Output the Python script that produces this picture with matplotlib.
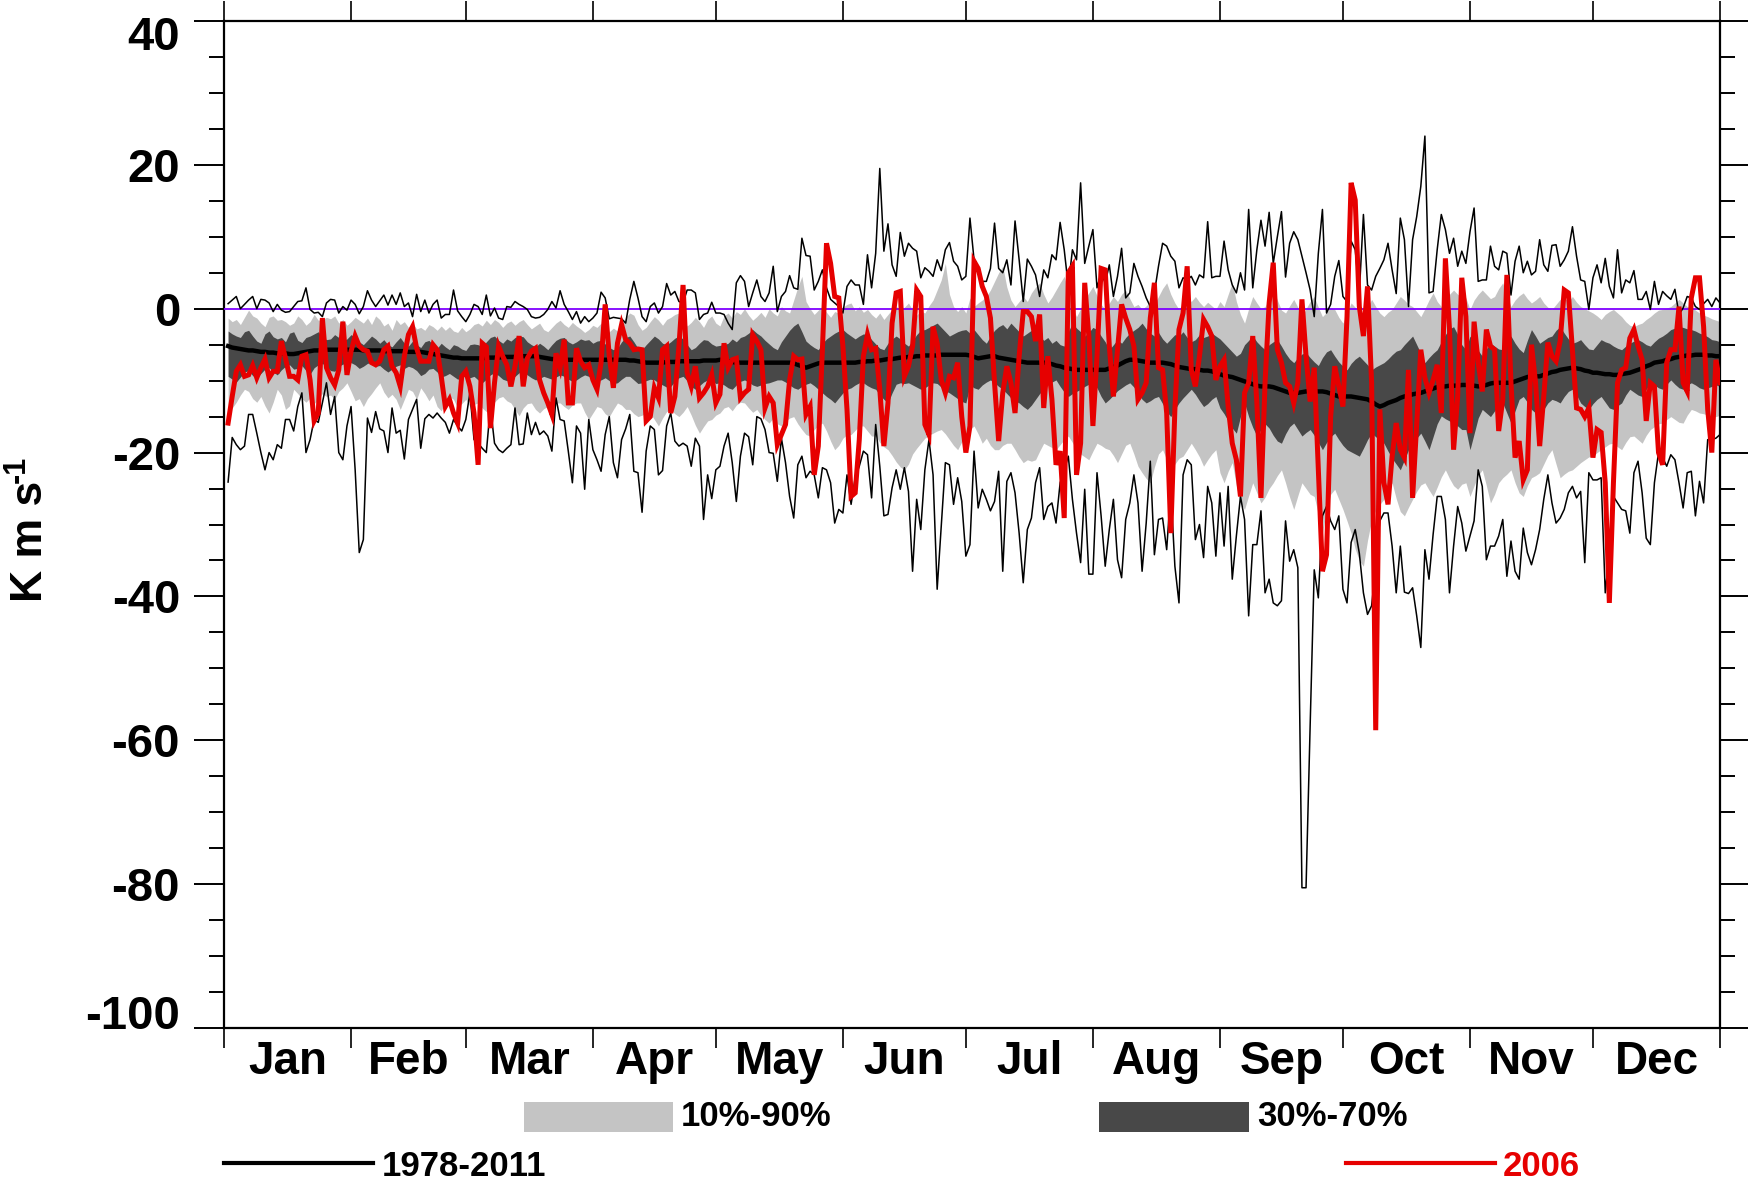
import numpy as np
import matplotlib
matplotlib.use("Agg")
import matplotlib.pyplot as plt
from matplotlib.patches import Rectangle
from matplotlib.lines import Line2D
from matplotlib.ticker import MultipleLocator
from matplotlib.transforms import ScaledTranslation

plt.rcParams['font.family'] = ['Liberation Sans', 'DejaVu Sans']
plt.rcParams['font.weight'] = 'bold'
plt.rcParams['axes.unicode_minus'] = False

months = ['Jan', 'Feb', 'Mar', 'Apr', 'May', 'Jun', 'Jul', 'Aug', 'Sep', 'Oct', 'Nov', 'Dec']
month_starts = [0, 31, 59, 90, 120, 151, 181, 212, 243, 273, 304, 334, 365]

# daily maximum 1978-2011
upper = [
    0.7, 1.2, 1.7, 0, 0.6, 1.2, 1.7, 0, 1.3, 1.2,
    0.8, -0.4, 0.6, -0.2, -0.5, -0.4, 0.3, 1.0, 1.1, 2.9,
    -0.1, -0.6, -0.5, -1.1, 0.8, 1.3, 1.2, -0.6, 0.3, -0.2,
    1.2, 0.6, -0.7, 0.3, 2.5, 1.2, 0.3, 1.1, 1.9, 0.5,
    1.9, 0.6, 2.2, 0.3, 0.8, -1.1, 2.0, -0.4, 1.2, -0.6,
    0.6, 1.2, -1.3, -0.8, -0.8, 2.6, -0.3, -1.1, -1.8,
    -0.8, 0.6, 0.3, -0.8, 1.9, -1.0, 0.1, -1.3, -1.5, 0.3,
    0.2, 1.0, 0.6, 0.3, -0.1, -1.1, -1.3, -1.2, -0.8, -0.1,
    1.0, 0.1, 2.5, 0.6, -0.4, -1.5, -0.4, -2.0, -1.1, -1.8,
    -1.3, -0.6, 2.3, 1.5, -1.4, -1.2, -1.3, -1.4, -2.0, 1.3,
    3.8, 1.5, -1.1, -1.8, 0.3, 0.8, -0.6, 0.3, 3.5, 1.9,
    2.4, 1.0, 0.8, 2.6, 2.6, 2.2, -1.5, -0.8, -0.6, 0.9,
    -0.6, -0.6, -0.8,
    -2.0, -2.9, 3.6, 4.6, 3.8, 0.3, 2.2, 4.0, 1.7, 1.0,
    2.2, 5.9, -0.4, 1.7, 2.4, 4.6, 2.9, 2.7, 9.8, 7.4,
    7.3, 2.6, 3.8, 5.4, 2.9, 1.3, 0.8, 0.3, -0.6, 3.1,
    4.0, 3.3, 3.3, 0.6, 7.5, 2.9, 7.7, 19.5, 8.0, 11.8,
    6.1, 4.5, 10.6, 7.3, 9.1, 8.4, 8.0, 4.3, 5.7, 5.2,
    4.5, 6.8, 5.3, 8.2, 9.2, 6.6, 5.9, 4.0, 4.5, 12.6,
    6.8, 5.4, 3.8, 3.8, 5.6, 11.9, 5.6, 5.0, 6.8, 3.3,
    12.2, 6.8, 1.0, 6.9, 5.9, 4.7, 1.7, 5.4, 4.3, 7.5,
    6.8, 12.0, 8.2, 3.1, 8.2, 6.8, 17.5, 6.3, 8.7, 11.0,
    2.9, 5.0, 3.6, 6.1, 1.7, 4.5, 8.4, 1.5, 2.2, 6.3,
    4.5, 3.1, 1.5, 0.3, 2.2, 5.9, 9.1, 8.7, 7.3, 6.6,
    2.9, 4.3, 4.0, 4.5, 3.3, 4.7, 4.3, 12.1, 4.3, 4.5,
    4.5, 9.4, 5.4, 3.3, 2.2, 5.0, 2.6, 13.8, 2.9, 8.2,
    12.3, 8.7, 13.4, 6.3, 10.0, 13.5, 4.4, 9.1, 10.7, 9.6,
    7.3, 5.0, 2.6, -1.1, 7.7, 13.8, -0.6, 0.6, 4.5, 6.7,
    1.7, 1.0, 9.4, 8.2, 2.2, 13.1, 3.3, 2.6, 4.5, 5.6,
    6.8, 9.1, 5.4, 2.1, 12.6, 9.6, 0.3, 9.6, 12.8, 17.0,
    24.0, 2.2, 2.4, 8.2, 13.1, 11.0, 7.7, 9.8, 5.9, 8.0,
    6.3,
    10.7, 14.0, 3.8, 4.0, 4.0, 8.7, 5.9, 5.4, 8.0, 7.7,
    1.9, 6.6, 8.7, 5.0, 6.6, 4.7, 5.2, 9.6, 6.1, 5.2,
    8.8, 8.9, 5.9, 6.8, 8.0, 11.4, 7.3, 4.0, 3.8, -0.1,
    4.3, 6.1, 3.6, 7.0, 3.1, 1.5, 8.2, 2.2, 4.0, 3.6,
    5.3, 1.3, 1.3, 2.4, -0.1, 3.8, 0.6, 2.4, 1.8, 1.3,
    2.7, -0.8, 0.1, 1.7, 1.5, 0.3, -0.1, 0.7, 1.3, 0.3,
    1.5, 0.8,
]

# daily minimum 1978-2011
lower = [
    -24.1, -17.9, -18.9, -19.6, -19.1, -14.7, -14.7, -17.3, -20.0, -22.4,
    -20.0, -21.0, -18.9, -19.4, -15.4, -15.4, -17.0, -13.6, -11.7, -20.0,
    -18.2, -15.4, -15.8, -13.1, -10.3, -14.7, -12.2, -20.0, -21.0, -16.3,
    -13.6, -22.4, -33.9, -32.1, -15.2, -17.2, -14.3, -16.7, -17.0, -20.0,
    -13.8, -17.3, -16.9, -20.9, -15.4, -14.0, -12.6, -19.4, -15.3, -14.7,
    -15.2, -14.5, -15.2, -15.8, -17.3, -15.4, -16.3, -17.0, -15.4, -11.7,
    -18.2, -18.7, -19.4, -20.0, -13.6, -18.7, -19.6, -20.0, -19.4, -18.9,
    -13.8, -18.9, -18.8, -14.5, -17.5, -15.8, -17.5, -17.0, -17.7, -19.8,
    -12.4, -15.4, -15.6, -19.8, -24.2, -16.3, -17.3, -25.1, -15.4, -19.6,
    -21.0, -22.6, -17.5, -15.0, -21.4, -23.5, -18.2, -16.7, -14.7, -22.6,
    -22.8, -28.3, -19.8, -16.3, -16.8, -23.1, -22.5, -16.3, -14.5, -18.4,
    -19.1, -18.7, -19.1, -21.9, -18.0, -19.1, -29.3, -23.1, -26.4, -22.4,
    -21.9, -19.1,
    -17.3, -21.4, -26.8, -20.5, -17.3, -17.8, -21.7, -15.0, -15.3, -16.8,
    -20.0, -20.1, -24.0, -18.0, -21.4, -26.1, -29.1, -21.7, -20.5, -23.5,
    -22.6, -23.1, -26.3, -22.1, -22.4, -24.2, -29.8, -27.9, -28.4, -23.1,
    -27.2, -23.5, -21.9, -19.8, -20.3, -26.3, -16.1, -21.9, -28.8, -28.6,
    -24.9, -22.4, -25.1, -22.1, -25.4, -36.5, -26.5, -30.7, -22.4, -18.2,
    -23.1, -39.0, -30.2, -21.4, -21.7, -27.2, -23.5, -26.8, -34.4, -32.8,
    -19.8, -27.7, -25.1, -26.5, -28.1, -26.8, -22.6, -36.5, -24.0, -22.8,
    -25.6, -31.2, -38.1, -30.7, -29.1, -24.2, -22.1, -29.3, -27.5, -27.0,
    -29.8, -24.2, -22.4, -20.5, -26.5, -31.2, -35.3, -25.1, -36.9, -36.9,
    -22.8, -28.8, -35.8, -30.7, -26.5, -34.9, -37.4, -29.3, -27.0, -23.1,
    -27.0, -36.5, -29.8, -21.2, -34.2, -29.3, -29.1, -33.5, -25.1, -35.8,
    -40.9, -23.1, -21.0, -21.7, -32.1, -30.0, -34.6, -24.7, -27.0, -34.4,
    -25.6, -33.0, -24.7, -37.6, -31.6, -26.1, -29.3, -42.7, -32.8, -32.8,
    -28.1, -39.5, -37.6, -40.9, -41.3, -40.6, -29.5, -35.1, -33.5, -36.0,
    -80.5, -80.5, -58.0, -36.3, -40.2, -28.8, -27.5, -29.5, -30.7, -28.8,
    -39.0, -40.9, -32.5, -30.7, -34.0, -39.5, -42.5, -41.3, -35.8, -29.5,
    -28.4, -28.4, -33.0, -39.5, -33.0, -39.4, -39.6, -38.8, -42.7, -47.1,
    -33.5, -37.6, -31.4, -26.1, -26.1, -29.3, -39.5, -33.0, -27.5, -29.8,
    -33.7, -31.6, -29.5, -22.4, -24.7, -34.9, -33.0, -33.0, -31.6,
    -29.3, -37.2, -32.3, -36.5, -37.6, -30.5, -33.9, -35.6, -33.5, -30.7,
    -26.5, -23.1, -27.0, -29.8, -29.1, -27.9, -25.6, -24.7, -26.3, -25.4,
    -35.3, -22.8, -23.8, -23.8, -23.5, -39.5, -33.9, -26.1, -27.0, -27.9,
    -28.1, -31.2, -22.8, -21.2, -25.6, -31.9, -32.8, -24.2, -20.0, -20.7,
    -21.9, -20.3, -21.0, -24.2, -27.7, -22.8, -22.6, -28.8, -24.0, -27.0,
    -18.2, -18.2, -18.0, -17.5,
]

# daily median 1978-2011
median = [
    -5.2, -5.4, -5.5, -5.6, -5.7, -5.8, -5.8, -5.9, -6.0, -6.0,
    -6.1, -6.1, -6.2, -6.2, -6.2, -6.3, -6.3, -6.2, -6.1, -6.0,
    -5.9, -5.8, -5.8, -5.7, -5.7, -5.7, -5.7, -5.7, -5.7, -5.7, -5.7,
    -5.7, -5.7, -5.8, -5.8, -5.8, -5.8, -5.8, -5.9, -5.9, -5.9,
    -5.9, -5.9, -5.9, -6.0, -6.0, -6.0, -6.0, -6.1, -6.2, -6.3,
    -6.4, -6.5, -6.6, -6.7, -6.8, -6.8, -6.9, -6.9,
    -6.9, -6.9, -6.9, -6.9, -6.8, -6.8, -6.8, -6.8, -6.7, -6.7,
    -6.7, -6.7, -6.6, -6.6, -6.6, -6.6, -6.6, -6.7, -6.8, -6.9,
    -7.0, -7.0, -7.1, -7.1, -7.1, -7.1, -7.1, -7.1, -7.1, -7.1, -7.1,
    -7.1, -7.1, -7.1, -7.1, -7.1, -7.1, -7.1, -7.1, -7.2, -7.2,
    -7.3, -7.4, -7.5, -7.5, -7.5, -7.5, -7.5, -7.4, -7.4, -7.4,
    -7.3, -7.3, -7.3, -7.3, -7.3, -7.3, -7.2, -7.2, -7.2, -7.2,
    -7.1, -7.2, -7.3, -7.4, -7.5, -7.5, -7.5, -7.5, -7.5, -7.5,
    -7.5, -7.5, -7.5, -7.5, -7.5, -7.5, -7.5, -7.5, -7.6, -7.8,
    -8.0, -8.2, -8.0, -7.8, -7.6, -7.5, -7.5, -7.5, -7.5, -7.5, -7.5,
    -7.5, -7.5, -7.5, -7.4, -7.4, -7.3, -7.3, -7.2, -7.2, -7.1,
    -7.0, -7.0, -6.9, -6.8, -6.8, -6.7, -6.7, -6.6, -6.6, -6.5,
    -6.5, -6.5, -6.5, -6.4, -6.4, -6.4, -6.4, -6.4, -6.4, -6.4,
    -6.5, -6.7, -6.9, -6.8, -6.7, -6.6, -6.6, -6.8, -6.9, -7.0,
    -7.1, -7.2, -7.3, -7.4, -7.5, -7.5, -7.5, -7.5, -7.5, -7.6,
    -7.7, -7.9, -8.0, -8.2, -8.3, -8.4, -8.5, -8.5, -8.5, -8.5, -8.5,
    -8.5, -8.5, -8.5, -8.3, -8.1, -7.9, -7.6, -7.3, -7.1, -7.1,
    -7.2, -7.3, -7.4, -7.5, -7.5, -7.5, -7.5, -7.6, -7.7, -7.9,
    -8.1, -8.2, -8.3, -8.4, -8.4, -8.5, -8.6, -8.6, -8.7, -8.9, -9.1,
    -9.3, -9.4, -9.5, -9.7, -9.9, -10.1, -10.3, -10.5, -10.7, -10.8,
    -10.8, -10.8, -10.9, -11.1, -11.3, -11.5, -11.7, -11.7, -11.7, -11.6,
    -11.5, -11.5, -11.5, -11.5, -11.5, -11.6, -11.8, -12.0, -12.2, -12.2,
    -12.2, -12.2, -12.3, -12.4, -12.5, -12.6, -12.9, -13.3, -13.6, -13.4,
    -13.1, -12.9, -12.7, -12.4, -12.2, -12.1, -11.9, -11.8, -11.7, -11.5,
    -11.3, -11.1, -10.9, -10.8, -10.8, -10.7, -10.7, -10.7, -10.6, -10.6, -10.6,
    -10.7, -10.8, -10.7, -10.6, -10.4, -10.3, -10.3, -10.3, -10.3, -10.3,
    -10.1, -9.9, -9.7, -9.5, -9.4, -9.4, -9.4, -9.2, -9.0, -8.8,
    -8.7, -8.5, -8.4, -8.3, -8.2, -8.3, -8.4, -8.6, -8.7, -8.9,
    -8.9, -9.0, -9.1, -9.1, -9.2, -9.2, -9.1, -9.0, -8.9, -8.7,
    -8.5, -8.3, -8.0, -7.8, -7.5, -7.4, -7.3, -7.1, -7.0, -6.8,
    -6.7, -6.6, -6.5, -6.5, -6.4, -6.4, -6.4, -6.5, -6.5, -6.6, -6.6,
]

# percentiles 1978-2011
p90 = [
    -1.3, -1.8, -1.5, -2.2, -1.2, -0.2, -1.0, -1.3, -2.0, -2.5,
    -1.2, -1.0, -1.6, -1.5, -1.8, -2.3, -2.0, -1.0, -1.5, -2.3,
    -1.8, -0.8, -1.6, -1.5, -1.2, -1.4, -1.0, -2.0, -1.5, -2.3,
    -1.8, -1.2, -1.6, -2.0, -1.3, -2.2, -1.0, -1.5, -2.4, -2.0,
    -3.0, -1.5, -2.2, -1.8, -2.6, -2.0, -2.8, -2.6, -3.0, -2.2,
    -2.5, -3.0, -2.4, -3.0, -2.5, -3.1, -3.3, -2.6, -3.2, -2.8, -2.2,
    -2.0, -2.4, -1.6, -2.2, -1.5, -1.9, -2.6, -2.0, -1.7, -2.3,
    -1.8, -1.5, -2.2, -2.8, -2.4, -2.0, -2.9, -3.2, -2.6, -2.0,
    -1.6, -2.2, -2.6, -1.9, -2.4, -2.8, -3.3, -2.9, -2.3, -2.6,
    -2.0, -2.5, -3.2, -2.7, -3.1, -2.2, -1.2, -0.6, -0.9, -2.2,
    -3.0, -2.6, -1.8, -1.1, -1.6, -2.3, -1.5, -1.2, -0.8, -0.6,
    -1.4, -2.4, -1.9, -1.2, -1.8, -2.6, -1.5, -1.0, -2.0, -2.4,
    -1.0, -0.6, -1.3, -0.4, -0.8, 0.0, -0.9, -1.6, -1.1, -0.5,
    -1.2, 0.0, -0.6, -1.0, 0.3, -0.3, -0.6, 1.2, 3.0, 4.5,
    1.0, 0.0, -0.8, -0.2, 0.3, -0.5, -1.2, -0.4, -0.6, 0.2,
    0.6, 0.8, -0.3, 0.3, -0.5, -0.1, -0.8, -1.3, -0.6, -1.5,
    -0.8, -0.1, 0.4, -0.4, 0.2, 0.8, -0.2, -0.9, -0.3, -0.6,
    0.4, 1.2, 2.6, 4.0, 6.3, 2.0, 0.3, -0.4, 0.3, -0.6,
    1.5, 0.3, 0.8, 1.2, 1.7, 2.6, 3.8, 5.0, 5.9, 3.0,
    1.2, 0.3, 1.0, 1.7, 1.0, 2.2, 3.0, 3.6, 2.0, 0.8,
    1.6, 2.6, 3.6, 4.5, 2.4, 0.2, -1.1, 0.0, 1.3, 2.2,
    3.1, 1.8, 0.6, -0.1, 0.8, 1.7, 1.0, 2.0, 2.6, 1.4,
    0.3, 0.6, -0.1, 0.4, 1.0, 0.6, 1.7, 2.8, 3.6, 2.0,
    0.8, -0.1, 0.8, 1.7, 1.0, 1.7, 0.9, 0.3, 0.9, 0.4,
    -0.1,
    1.0, 0.3, 2.0, 3.6, 1.0, -0.8, -2.0, 0.0, 1.7, 0.8,
    0.0, 0.3, 1.5, 2.6, 1.2, -0.2, -0.6, 0.4, 1.3, 0.2,
    -1.1, 0.0, 1.0, 1.7, 0.2, -1.1, -0.5, 0.2, -0.1, -1.2,
    -2.0, -0.6, 0.8, 0.2, -0.5, -1.1, 0.2, 1.3, 0.3, -0.6,
    -1.1, -0.5, -0.1, 0.8, 1.7, 1.2, 0.6, 0.3, -0.4, -1.1,
    0.0, 1.2, 2.2, 1.0, 0.3, 1.4, 2.0, 2.6, 2.0, 1.7,
    1.5,
    -0.1, 1.2, 2.0, 2.6, 2.0, 1.4, 1.7, 2.8, 3.6, 1.8,
    0.3, 1.2, 1.8, 2.2, 1.4, 0.8, 1.2, 1.7, 0.8, 0.2,
    -0.1, 0.6, 1.3, 1.5, 1.0, 1.7, 0.9, 0.3, 0.0, -0.3,
    -0.6, -1.0, -1.5, -0.8, -0.4, -0.1, -0.6, -1.1, -1.8, -2.3,
    -2.5, -2.2, -2.0, -1.5, -1.1, -0.6, -0.2, -0.1, 0.1, 0.3,
    0.8, 1.3, 0.8, 0.3, 0.3, -0.2, -0.6, -0.9, -1.1, -1.4,
    -1.6, -1.8,
]

p70 = [
    -3.1, -3.5, -3.8, -4.0, -3.2, -3.0, -3.8, -4.5, -4.8, -3.5,
    -3.1, -3.9, -4.2, -4.0, -4.6, -3.4, -3.2, -4.4, -4.7, -4.0,
    -3.8, -3.5, -3.2, -4.0, -4.3, -4.2, -3.6, -4.0, -4.5, -4.2,
    -3.6, -4.0, -4.6, -5.0, -4.4, -3.8, -4.2, -4.8, -4.3, -5.0,
    -5.3, -4.6, -4.0, -4.8, -5.2, -4.5, -5.0, -5.4, -4.6, -4.4,
    -5.0, -5.5, -4.8, -5.3, -5.7, -5.0, -5.2, -5.6, -5.8, -5.0, -4.9,
    -5.0, -5.3, -4.6, -4.0, -3.8, -4.4, -4.8, -4.2, -4.5, -4.0,
    -3.8, -3.9, -4.6, -5.0, -5.3, -4.8, -5.2, -5.7, -5.0, -4.4,
    -4.1, -4.0, -4.6, -4.9, -4.6, -4.2, -4.4, -4.3, -4.8, -4.5,
    -4.4, -4.9, -5.4, -5.7, -5.5, -4.6, -4.0, -3.8, -4.6, -5.5,
    -5.7, -5.0, -4.4, -3.8, -4.2, -4.8, -5.0, -4.6, -4.1, -3.8,
    -4.2, -5.0, -5.7, -5.4, -4.8, -4.3, -4.4, -4.9, -5.2, -5.1,
    -5.0, -4.8, -4.2, -4.6, -4.0, -3.8, -3.4, -2.9, -3.4, -3.8,
    -4.4, -4.9, -5.4, -5.7, -4.6, -3.8, -3.0, -2.4, -2.0, -3.2,
    -4.5, -5.0, -5.4, -5.7, -4.8, -4.2, -3.8, -3.4, -3.1, -2.9,
    -3.4, -3.8, -4.2, -3.8, -3.5, -3.6, -4.3, -4.9, -5.5, -5.7,
    -4.8, -4.2, -3.8, -4.2, -4.8, -5.2, -4.4, -3.6, -3.0, -2.9,
    -2.6, -2.3, -2.0, -2.6, -3.2, -3.8, -3.5, -3.2, -3.0, -2.9,
    -3.4, -2.9, -3.6, -4.3, -4.8, -3.8, -3.0, -2.5, -2.2, -2.8,
    -2.0, -2.6, -3.2, -3.8, -3.4, -3.0, -3.6, -3.8, -4.4, -4.0,
    -4.8, -4.4, -5.0, -5.2, -3.2, -2.0, -2.7, -3.2, -3.8, -3.3,
    -2.6, -2.9, -3.8, -4.6, -5.7, -5.0, -4.3, -4.8, -4.0, -3.4,
    -3.0, -2.6, -2.0, -2.8, -3.4, -3.8, -3.3, -4.2, -4.8, -4.2,
    -3.6, -3.8, -3.2, -4.0, -4.6, -4.3, -3.6, -4.0, -3.8, -3.4,
    -3.8,
    -4.2, -4.8, -5.4, -6.0, -6.6, -6.2, -5.0, -4.4, -3.8, -4.6,
    -5.2, -5.7, -5.0, -4.6, -4.3, -5.2, -6.2, -7.0, -7.5, -6.8,
    -6.3, -6.1, -6.8, -7.4, -7.9, -6.8, -6.0, -5.7, -6.6, -7.4,
    -8.0, -8.5, -7.6, -7.0, -6.6, -7.2, -7.8, -8.5, -8.1, -7.8,
    -7.5, -7.0, -6.4, -5.9, -5.7, -5.0, -4.4, -3.8, -5.0, -6.2,
    -7.5, -6.8, -6.2, -5.7, -4.6, -3.6, -2.8, -2.5, -3.6, -5.0,
    -5.7,
    -3.8, -4.8, -5.8, -6.6, -5.6, -4.8, -5.2, -5.6, -5.7, -4.6,
    -3.8, -4.8, -5.6, -6.1, -4.4, -2.9, -3.8, -4.8, -4.4, -4.0,
    -3.8, -3.0, -2.5, -3.4, -4.2, -4.8, -4.6, -4.3, -5.0, -5.6,
    -5.7, -5.0, -4.3, -4.6, -4.8, -5.2, -5.5, -5.7, -5.2, -4.8,
    -4.5, -4.3, -4.6, -5.0, -5.2, -4.6, -4.1, -3.8, -3.4, -2.9,
    -2.7, -2.5, -2.6, -2.8, -2.9, -3.1, -3.4, -3.6, -3.9, -4.3,
    -4.4, -4.6,
]

p30 = [
    -9.4, -9.8, -10.2, -9.5, -8.8, -8.6, -9.3, -9.6, -9.0, -8.4,
    -8.2, -8.8, -9.2, -8.5, -8.0, -7.8, -8.4, -8.3, -7.9, -8.6,
    -9.1, -8.2, -7.8, -7.6, -8.1, -8.6, -8.7, -8.0, -7.7, -7.6,
    -7.5, -7.8, -8.3, -8.0, -7.6, -7.5, -8.0, -7.9, -8.4, -8.8,
    -8.4, -8.0, -7.8, -8.3, -8.0, -8.2, -8.6, -9.3, -9.0, -8.4,
    -8.3, -8.8, -9.5, -9.3, -9.0, -9.4, -9.8, -9.6, -9.3, -9.6, -9.4,
    -9.9, -10.3, -9.8, -9.2, -8.9, -9.3, -9.8, -10.0, -9.9, -9.4,
    -8.9, -8.7, -9.2, -9.6, -9.9, -9.7, -9.4, -9.6, -9.8, -9.5,
    -9.2, -9.4, -9.8, -10.1, -9.9, -9.5, -9.2, -9.4, -9.8, -10.0,
    -9.9, -9.6, -10.0, -10.4, -10.3, -9.8, -9.4, -9.4, -9.9, -10.4,
    -10.3, -10.0, -9.8, -9.9, -10.3, -10.6, -10.9, -10.8, -10.1, -9.6,
    -9.4, -10.0, -10.8, -11.2, -10.7, -10.2, -9.9, -10.0, -10.4, -10.3,
    -10.6, -11.0, -11.2, -10.6, -10.1, -9.9, -10.2, -10.6, -10.8, -10.6,
    -10.4, -10.3, -10.1, -9.9, -9.9, -10.2, -10.6, -11.0, -11.2, -10.8,
    -10.5, -10.3, -10.7, -11.2, -11.7, -12.2, -12.6, -13.1, -12.4, -11.7,
    -11.2, -11.0, -10.6, -10.3, -10.3, -10.7, -11.0, -11.2, -12.0, -12.6,
    -13.1, -11.7, -10.5, -10.3, -10.4, -10.3, -10.6, -10.9, -11.2, -11.0,
    -10.6, -10.3, -10.4, -10.9, -11.4, -11.7, -12.1, -12.5, -12.9, -13.1,
    -10.6, -11.0, -11.2, -10.6, -10.2, -9.9, -10.3, -10.8, -11.2, -11.8,
    -12.4, -12.8, -13.1, -13.6, -14.0, -13.4, -12.6, -11.8, -11.2, -10.6,
    -10.2, -9.9, -10.8, -11.6, -12.2, -11.8, -11.5, -11.2, -10.8, -10.5,
    -10.3, -11.0, -12.2, -13.1, -12.6, -12.0, -11.4, -11.0, -10.6, -10.3,
    -10.9, -11.8, -12.6, -13.1, -12.8, -12.4, -12.2, -13.2, -14.3, -15.0,
    -14.0, -13.1, -12.4, -11.8, -11.2, -11.9, -12.8, -13.6, -13.2, -12.6,
    -12.2,
    -13.8, -14.6, -15.6, -16.6, -17.3, -15.0, -13.1, -15.0, -16.5, -17.7,
    -16.8, -16.0, -16.6, -17.6, -18.4, -18.7, -17.4, -16.4, -15.9, -16.8,
    -17.7, -17.2, -16.8, -17.6, -18.6, -19.6, -18.6, -17.8, -17.3, -18.2,
    -19.0, -19.6, -19.9, -20.2, -20.5, -19.4, -18.2, -17.3, -17.8, -18.3,
    -18.7, -19.8, -20.8, -21.6, -22.4, -21.0, -19.6, -18.8, -18.0, -17.3,
    -18.4, -19.6, -17.8, -16.0, -14.9, -15.3, -15.6, -15.9, -16.3, -16.8,
    -16.8,
    -19.6, -17.4, -15.2, -14.0, -14.5, -15.0, -14.2, -13.4, -13.1, -14.5,
    -15.9, -14.2, -12.6, -12.2, -13.0, -14.0, -14.5, -15.0, -14.0, -13.1,
    -12.6, -12.8, -13.1, -12.2, -11.5, -11.2, -12.0, -13.1, -13.6, -14.0,
    -13.2, -12.6, -12.2, -13.0, -13.8, -14.0, -13.5, -13.1, -12.0, -11.2,
    -11.6, -12.0, -12.2, -11.2, -10.3, -10.6, -11.0, -11.2, -10.5, -9.9,
    -10.5, -11.0, -11.2, -10.6, -10.3, -10.6, -11.0, -11.2, -11.0, -10.8,
    -10.6, -10.8,
]

p10 = [
    -14.5, -13.8, -13.0, -12.0, -11.2, -11.5, -12.5, -13.0, -12.2, -13.5,
    -14.5, -13.0, -11.2, -12.0, -14.0, -13.5, -11.2, -11.8, -12.5, -13.0,
    -12.4, -13.2, -12.6, -11.8, -12.2, -12.0, -12.6, -11.5, -11.0, -10.3,
    -11.5, -12.8, -12.5, -13.6, -12.5, -11.8, -11.0, -10.3, -11.6, -12.4,
    -11.9, -12.6, -14.0, -12.6, -11.2, -11.5, -12.6, -11.0, -11.8, -12.8,
    -12.0, -13.6, -14.2, -13.0, -12.2, -12.6, -13.8, -13.2, -12.6, -13.6, -13.3,
    -13.1, -13.8, -14.3, -14.5, -13.0, -12.4, -12.2, -12.8, -13.1, -14.0,
    -14.9, -13.8, -13.2, -13.1, -14.0, -14.5, -13.9, -13.6, -13.4, -13.1,
    -13.1, -13.6, -14.0, -13.4, -13.1, -13.1, -14.4, -15.4, -14.5, -13.6,
    -13.8, -14.6, -15.0, -14.0, -13.1, -13.4, -14.0, -14.0, -14.6, -15.0,
    -14.8, -14.5, -14.5, -15.4, -16.3, -15.2, -14.3, -14.0, -14.6, -15.0,
    -14.4, -13.6, -14.8, -16.2, -17.3, -16.4, -15.6, -15.4, -14.8, -14.5,
    -13.8, -13.6, -14.2, -13.4, -13.0, -13.1, -13.8, -14.4, -14.0, -14.8,
    -15.4, -15.9, -15.2, -16.0, -16.3, -15.6, -15.2, -15.0, -16.0, -16.8,
    -17.5, -17.7, -16.8, -16.2, -15.9, -17.0, -18.4, -19.6, -19.0, -18.0,
    -17.5, -17.5, -16.9, -16.3, -16.3, -17.0, -17.7, -17.7, -18.6, -19.2,
    -19.6, -20.4, -21.3, -22.0, -22.4, -21.6, -20.2, -19.4, -18.7, -18.0,
    -17.6, -17.3, -17.0, -16.8, -17.4, -18.2, -19.0, -19.6, -18.5, -17.6,
    -16.8, -16.3, -17.4, -18.7, -18.0, -19.0, -19.6, -19.6, -19.0, -18.7,
    -18.7, -19.6, -20.6, -21.4, -21.0, -21.2, -21.0, -19.8, -18.7, -19.0,
    -19.3, -19.6, -18.9, -18.2, -17.7, -18.6, -19.6, -20.2, -20.6, -21.0,
    -19.8, -18.7, -19.0, -19.4, -19.6, -20.4, -21.4, -20.2, -19.0, -18.7,
    -20.2, -21.9, -22.8, -23.6, -24.2, -22.0, -20.2, -19.6, -21.0, -22.4,
    -21.6, -20.8, -20.5, -19.6, -18.7, -19.6, -20.6, -21.9, -21.0, -20.2,
    -19.6,
    -22.8, -24.2, -22.6, -21.4, -24.6, -27.0, -27.9, -26.0, -24.2, -25.6,
    -27.0, -26.2, -25.0, -24.2, -23.2, -22.4, -24.2, -26.2, -27.9, -26.0,
    -24.2, -25.0, -25.8, -26.1, -28.6, -31.2, -28.0, -25.8, -25.1, -26.5,
    -27.9, -29.5, -31.2, -33.4, -35.0, -35.8, -32.2, -29.4, -28.0, -27.2,
    -26.5, -25.3, -24.2, -26.4, -28.2, -28.8, -27.6, -26.5, -25.4, -24.5,
    -24.2, -25.2, -26.1, -24.8, -23.4, -22.4, -23.6, -24.6, -25.1, -24.4,
    -24.2,
    -26.1, -24.6, -23.2, -22.4, -24.6, -27.0, -25.8, -24.2, -23.5, -23.0,
    -22.4, -24.2, -25.6, -26.1, -24.6, -23.5, -23.2, -22.8, -21.6, -20.4,
    -19.6, -21.6, -23.5, -23.0, -22.6, -22.4, -21.9, -21.4, -21.0, -20.6,
    -20.5, -20.0, -19.6, -19.2, -18.8, -18.7, -19.2, -19.6, -18.6, -17.8,
    -17.7, -18.2, -18.7, -17.6, -16.8, -16.4, -16.0, -15.9, -15.4, -15.0,
    -15.4, -15.8, -15.9, -14.8, -14.0, -14.2, -14.5, -14.6, -14.8, -15.0,
    -15.0, -14.8,
]

# year 2006
y2006 = [
    -15.9, -12.2, -8.7, -7.8, -9.4, -9.2, -7.9, -9.6, -8.2, -7.0,
    -9.6, -8.7, -8.7, -4.5, -6.9, -9.4, -9.4, -9.9, -6.6, -6.4,
    -9.9, -15.6, -14.5, -1.3, -8.2, -9.6, -10.6, -8.5, -1.8, -9.2,
    -5.9, -3.8, -5.2, -5.7, -5.9, -7.5, -7.8, -7.3, -5.7, -5.2,
    -8.0, -8.9, -10.8, -6.6, -3.6, -2.5, -5.5, -7.3, -7.3, -7.3,
    -5.0, -5.7, -9.4, -13.6, -12.6, -14.5, -15.9, -9.4, -8.7, -10.8,
    -14.5, -21.7, -4.8, -5.3, -16.6, -10.3, -5.2, -6.6, -7.8, -10.8,
    -8.0, -3.8, -10.8, -6.9, -5.9, -5.5, -9.9, -11.7, -13.1, -14.7,
    -6.2, -8.2, -4.3, -13.1, -13.1, -5.5, -7.3, -8.2, -7.8, -9.9,
    -11.2, -7.5, 0.6, -6.6, -11.0, -4.8, -2.2, -4.3, -4.8, -5.7,
    -5.6, -5.7, -15.6, -15.0, -11.0, -12.4, -5.7, -5.2, -14.5, -12.2,
    -5.2, 3.3, -8.9, -10.8, -8.0, -12.4, -11.7, -10.8, -9.2, -13.1,
    -11.9, -4.8,
    -8.2, -7.1, -6.9, -12.4, -11.7, -11.2, -3.6, -4.5, -5.7, -13.8,
    -12.2, -13.1, -18.9, -17.5, -16.1, -9.9, -6.6, -7.1, -7.0, -14.7,
    -13.6, -23.1, -19.1, -5.7, 9.1, 6.3, 1.7, 1.5, -5.2, -14.0,
    -26.1, -25.6, -18.2, -6.6, -3.6, -5.7, -5.5, -11.2, -19.1, -13.1,
    -2.0, 2.2, 2.4, -9.4, -8.0, -5.2, 2.6, 1.7, -16.1, -17.5,
    -2.5, -4.8, -9.9, -11.7, -9.4, -9.6, -7.5, -15.0, -20.0, -16.3,
    6.6, 5.6, 3.1, 1.7, -1.3, -10.3, -18.4, -11.7, -8.0, -10.3,
    -14.5, -6.6, -0.4, -0.4, -1.1, -4.5, -0.8, -13.8, -6.6, -12.6,
    -21.7, -19.8, -29.1, 5.0, 5.9, -23.1, -18.7, 3.6, -3.8, -16.3,
    -6.6, 5.6, 5.4, -5.2, -12.2, -5.7, 0.6, -1.3, -2.9, -5.2,
    -12.6, -11.7, -10.3, -1.3, 3.6, -8.2, -8.5, -14.5, -31.2, -14.0,
    -2.9, -0.6, 5.9, -8.5, -10.8, -6.6, -1.5, -2.5, -3.8, -9.9,
    -8.0, -7.1, -13.6, -18.7, -21.0, -26.1, -11.7, -10.3, -3.8, -13.1,
    -26.3, -10.3, 0.8, 6.4, -5.7, -7.5, -10.3, -10.8, -13.1, -10.3,
    1.3, -6.6, -12.9, -8.2, -22.4, -36.5, -34.2, -15.0, -8.0, -10.8,
    -13.6, -1.1, 17.5, 15.1, 0.3, -3.8, 3.1, -10.3, -58.6, -14.0,
    -24.2, -27.2, -20.5, -15.9, -19.6, -20.7, -8.5, -26.3, -15.9, -5.7,
    -9.6, -11.7, -9.9, -7.8, -14.5, 7.0, -2.9, -19.6, -12.2, 4.3,
    -1.1, -17.3, -1.8, -7.5, -11.5, -2.9, -5.2, -5.7, -17.0, -12.6,
    4.7, -10.3, -20.7, -18.4, -23.8, -22.4, -5.0, -10.3, -19.1, -12.2,
    -4.7, -6.6, -7.3, -4.5, 2.6, 2.2, -5.7, -13.8, -14.0, -15.0,
    -13.8, -20.7, -16.8, -17.2, -24.2, -40.9, -24.2, -10.3, -8.5, -8.2,
    -4.1, -2.9, -5.2, -7.1, -15.6, -10.3, -10.8, -20.0, -21.7, -7.5,
    -5.7, -5.7, 0.3, -10.3, -11.5, 1.5, 4.3, 4.3, -2.5, -14.0,
    -20.0, -7.1, -10.3,
]

days = np.arange(1, 366)

fig = plt.figure(figsize=(17.48, 11.8), dpi=100)
ax = fig.add_axes([224/1748, 1 - 1028/1180, (1720 - 224)/1748, (1028 - 21)/1180])

ax.fill_between(days, p10, p90, color='#c4c4c4', lw=0, zorder=1)
ax.fill_between(days, p30, p70, color='#484848', lw=0, zorder=2)
ax.plot(days, median, color='black', lw=3.2, zorder=3)
ax.axhline(0, color='#7f00ff', lw=1.3, zorder=4)
ax.plot(days, upper, color='black', lw=1.1, zorder=5)
ax.plot(days, lower, color='black', lw=1.1, zorder=5)
ax.plot(days, y2006, color='#e60000', lw=3.6, zorder=6, solid_joinstyle='miter')

ax.set_xlim(0, 365)
ax.set_ylim(-100, 40)

ax.set_xticks(month_starts)
ax.set_xticklabels([])
mids = [(month_starts[i] + month_starts[i + 1]) / 2 for i in range(12)]
ax.set_xticks(mids, minor=True)
ax.set_xticklabels(months, minor=True)
ax.tick_params(axis='x', which='major', direction='out', length=14.4, width=1.2,
               top=True, bottom=True)
ax.tick_params(axis='x', which='minor', length=0, pad=9, labelsize=33)

ax.set_yticks(range(-100, 41, 20))
ax.yaxis.set_minor_locator(MultipleLocator(5))
ax.tick_params(axis='y', which='major', direction='out', length=21.6, width=1.4,
               left=True, right=True, labelsize=34, pad=10)
ax.tick_params(axis='y', which='minor', direction='out', length=10.8, width=1.4,
               left=True, right=True)
for sp in ax.spines.values():
    sp.set_linewidth(1.6)

ylabs = ax.get_yticklabels()
ylabs[-1].set_transform(ylabs[-1].get_transform() + ScaledTranslation(0, -0.115, fig.dpi_scale_trans))
ylabs[0].set_transform(ylabs[0].get_transform() + ScaledTranslation(0, 0.16, fig.dpi_scale_trans))

# y label: "K m s" with a small raised "-1"
fig.text(31/1748, 1 - 602/1180, 'K m s', rotation=90, ha='center', va='bottom', fontsize=32)
fig.text(17/1748, 1 - 483/1180, '-1', rotation=90, ha='center', va='bottom', fontsize=22)

# legend
fig.add_artist(Rectangle((524/1748, 1 - 1132/1180), 149/1748, 30/1180,
                         transform=fig.transFigure, color='#c4c4c4', lw=0))
fig.text(681/1748, 1 - 1117/1180, '10%-90%', ha='left', va='center', fontsize=25)
fig.add_artist(Rectangle((1099/1748, 1 - 1132/1180), 150/1748, 30/1180,
                         transform=fig.transFigure, color='#484848', lw=0))
fig.text(1257/1748, 1 - 1117/1180, '30%-70%', ha='left', va='center', fontsize=25)
fig.add_artist(Line2D([224/1748, 373/1748], [1 - 1163/1180] * 2, color='black', lw=3,
                      transform=fig.transFigure))
fig.text(382/1748, 1 - 1166/1180, '1978-2011', ha='left', va='center', fontsize=25)
fig.add_artist(Line2D([1346/1748, 1495/1748], [1 - 1163/1180] * 2, color='#e60000', lw=3,
                      transform=fig.transFigure))
fig.text(1503/1748, 1 - 1166/1180, '2006', ha='left', va='center', fontsize=25, color='#e60000')

fig.savefig('out.png', dpi=100)
